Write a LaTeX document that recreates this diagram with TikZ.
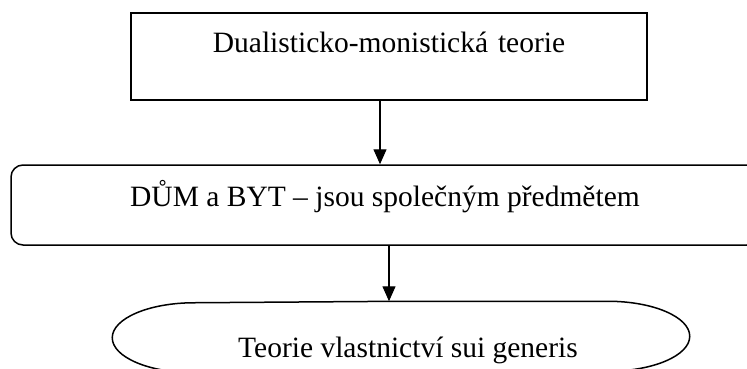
\documentclass[tikz,border=0pt]{standalone}
\usepackage{fontspec}
\setmainfont{Liberation Serif}
\usetikzlibrary{arrows.meta}
\begin{document}
\begin{tikzpicture}[x=1pt,y=1pt,
  box/.style={line width=1.5pt,inner xsep=0pt,inner ysep=0pt,anchor=base,font=\fontsize{29.5}{33}\selectfont},
  arr/.style={-{Triangle[length=15pt,width=13pt]},line width=1.3pt}]
\useasboundingbox (0,0) rectangle (747,-368);
\node[box,draw,minimum width=516pt,text height=39pt,text depth=48pt,align=center,text width=516pt] (dual) at (389,-52) {Dualisticko-monistická teorie\hspace*{18pt}};
\node[box,draw,rounded corners=12pt,minimum width=748pt,text height=41pt,text depth=39pt] (dum) at (385,-206) {DŮM a BYT -- jsou společným předmětem};
\node[box,minimum width=412pt,text height=55pt,text depth=15pt] (gen) at (401,-357) {\hspace*{14pt}Teorie vlastnictví sui generis};
\draw[line width=1.5pt] (gen.north) -- (gen.north east) arc[start angle=90,end angle=-90,x radius=82pt,y radius=35pt] -- (gen.south west) arc[start angle=270,end angle=90,x radius=82pt,y radius=35pt] -- cycle;
\draw[arr] ([xshift=-9pt]dual.south) -- ([xshift=-9pt]dual.south |- dum.north);
\draw[arr] ([xshift=4pt]dum.south) -- ([xshift=4pt]dum.south |- gen.north);
\end{tikzpicture}
\end{document}
